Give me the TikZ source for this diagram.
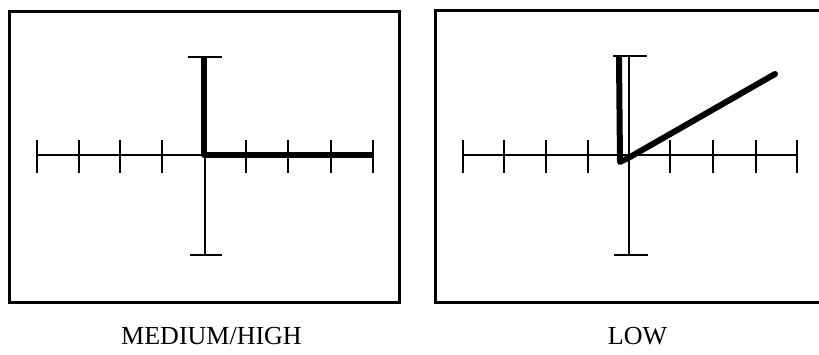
\documentclass[tikz,border=0pt]{standalone}
\usepackage{fontspec}
\setmainfont{Liberation Serif}
\begin{document}
\begin{tikzpicture}[x=1pt,y=-1pt,
  frame/.style={line width=3pt},
  axis/.style={line width=2.4pt},
  trace/.style={line width=6pt,line cap=round,line join=round},
  lbl/.style={font=\fontsize{26}{26}\selectfont,anchor=base,inner sep=0pt}]
\useasboundingbox (0,0) rectangle (819,354);
\clip (0,0) rectangle (819,354);
% left panel
\draw[frame] (9,11) rectangle (399,302);
\draw[axis] (37,155) -- (373,155);
\foreach \x in {37,79,120,162,246,288,331,373}
  \draw[axis] (\x,140) -- (\x,173);
\draw[axis] (205,57) -- (205,255);
\draw[axis] (188,57) -- (222,57);
\draw[axis] (190,255) -- (222,255);
\draw[trace,line cap=butt] (204,57) -- (204,155) -- (373,155);
% right panel
\draw[frame] (435,10) rectangle (823,302);
\draw[axis] (463,155) -- (797,155);
\foreach \x in {463,504,546,588,670,713,756,797}
  \draw[axis] (\x,140) -- (\x,173);
\draw[axis] (629,56) -- (629,255);
\draw[axis] (613,56) -- (647,56);
\draw[axis] (614,255) -- (648,255);
\draw[trace] (619,58) -- (620,162) -- (630,157) -- (775,74);
% labels
\node[lbl] (medhigh) at (211.5,344) {MEDIUM/HIGH};
\node[lbl] (low) at (637.5,344) {LOW};
\end{tikzpicture}
\end{document}
